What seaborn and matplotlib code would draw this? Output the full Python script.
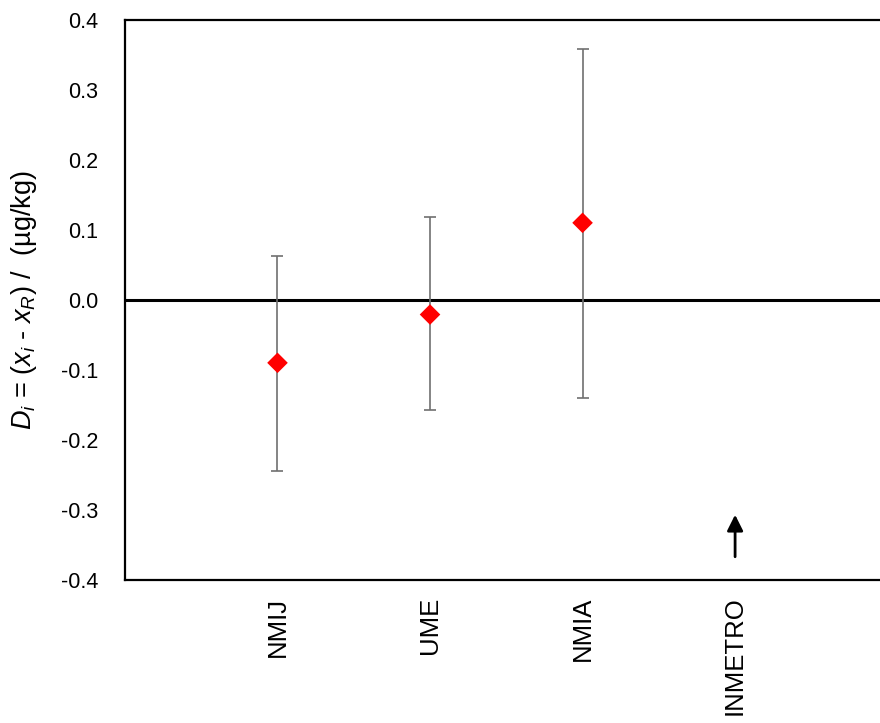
import pandas as pd
import seaborn as sns
import matplotlib.pyplot as plt

# 数据
labs = ["NMIJ", "UME", "NMIA", "INMETRO"]
d_val = [-0.090, -0.021, 0.110]
u_hi = [0.063, 0.119, 0.359]
u_lo = [-0.244, -0.157, -0.140]
# INMETRO 超出范围，用箭头表示
arrow_from = -0.367
arrow_to = -0.307

sns.set_style("white")
plt.rcParams['font.family'] = ['Liberation Sans', 'DejaVu Sans']
plt.rcParams['mathtext.fontset'] = 'custom'
plt.rcParams['mathtext.rm'] = 'Liberation Sans'
plt.rcParams['mathtext.it'] = 'Liberation Sans:italic'
plt.rcParams['text.color'] = 'black'
plt.rcParams['axes.labelcolor'] = 'black'
plt.rcParams['xtick.color'] = 'black'
plt.rcParams['ytick.color'] = 'black'

data = pd.DataFrame({"lab": labs[:3], "D": d_val, "hi": u_hi, "lo": u_lo})
data["x"] = range(len(data))

fig = plt.figure(figsize=(8.8, 7.23), dpi=100)
ax = fig.add_axes([0.142, 0.198, 0.858, 0.7746])

ax.axhline(0, color='black', linewidth=2.2, zorder=1)
ax.errorbar(data["x"], data["D"],
            yerr=[data["D"] - data["lo"], data["hi"] - data["D"]],
            fmt='none', ecolor='#707070', elinewidth=1.2, capsize=4, capthick=1.2, zorder=2)
sns.scatterplot(x='x', y='D', data=data, marker='D', color='red', s=110,
                edgecolor='none', ax=ax, zorder=3)

ax.annotate("", xy=(3, arrow_to), xytext=(3, arrow_from),
            arrowprops=dict(arrowstyle='-|>', color='black', lw=2, mutation_scale=24,
                            shrinkA=0, shrinkB=0))

ax.set_xlim(-1, 3.95)
ax.set_ylim(-0.4, 0.4)
ax.set_xticks(range(len(labs)))
ax.set_xticklabels(labs, rotation=90, fontsize=18.5)
ax.set_yticks([-0.4, -0.3, -0.2, -0.1, 0.0, 0.1, 0.2, 0.3, 0.4])
ax.set_yticklabels([f"{v:.1f}" for v in ax.get_yticks()], fontsize=15.5)
ax.tick_params(axis='both', length=0, pad=12)
ax.tick_params(axis='y', pad=19)
ax.set_xlabel("")
ax.set_ylabel(r"$D_i$ = ($x_i$ - $x_R$) /  (µg/kg)", fontsize=19.5, labelpad=16)

for side in ['top', 'left', 'bottom']:
    ax.spines[side].set_color('black')
    ax.spines[side].set_linewidth(1.6)
ax.spines['right'].set_visible(False)

plt.savefig("out.png", dpi=100)
plt.close()
